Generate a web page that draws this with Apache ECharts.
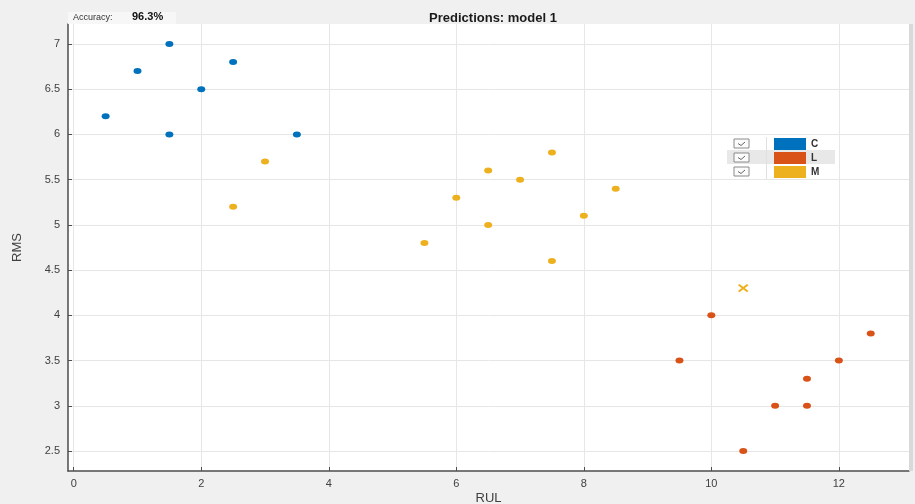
<!DOCTYPE html>
<html>
<head>
    <meta charset="utf-8">
    <title>Predictions: model 1</title>
    <script type="text/javascript" src="https://cdn.jsdelivr.net/npm/echarts@6/dist/echarts.min.js"></script>
    <style type="text/css">
        html, body { margin: 0; padding: 0; background: #f0f0f0; }
        #main { width: 915px; height: 504px; }
    </style>
</head>
<body>
    <div id="main"></div>
    <script type="text/javascript">
        // data: [RUL, RMS]
        var seriesNames = ['C', 'L', 'M'];
        var seriesColors = ['#0072BD', '#D95319', '#EDB120'];
        var pointsC = [[0.5, 6.2], [1, 6.7], [1.5, 7], [1.5, 6], [2, 6.5], [2.5, 6.8], [3.5, 6]];
        var pointsL = [[9.5, 3.5], [10, 4], [10.5, 2.5], [11, 3], [11.5, 3.3], [11.5, 3], [12, 3.5], [12.5, 3.8]];
        var pointsM = [[2.5, 5.2], [3, 5.7], [5.5, 4.8], [6, 5.3], [6.5, 5.6], [6.5, 5], [7, 5.5],
                       [7.5, 5.8], [7.5, 4.6], [8, 5.1], [8.5, 5.4]];
        // misclassified point, drawn as a cross
        var wrongM = [[10.5, 4.3]];
        var xTicks = [0, 2, 4, 6, 8, 10, 12];
        var yTicks = [2.5, 3, 3.5, 4, 4.5, 5, 5.5, 6, 6.5, 7];
        var accuracy = '96.3%';

        var chart = echarts.init(document.getElementById('main'), null, { renderer: 'canvas' });
        var font = 'Liberation Sans, Arial, sans-serif';
        var crossPath = 'path://M0,0 L10,10 M10,0 L0,10';

        function axisCommon(ticks) {
            return {
                axisLine: { show: true, onZero: false, lineStyle: { color: '#4d4d4d', width: 1.5 } },
                axisTick: { show: true, inside: true, length: 4, customValues: ticks, lineStyle: { color: '#4d4d4d' } },
                axisLabel: { customValues: ticks, color: '#404040', fontSize: 11, fontFamily: font, margin: 8 },
                splitLine: { show: true, lineStyle: { color: '#e6e6e6', width: 1 } }
            };
        }

        var xAxis = axisCommon(xTicks);
        xAxis.type = 'value';
        xAxis.min = -0.09;
        xAxis.max = 13.1;
        xAxis.name = 'RUL';
        xAxis.nameLocation = 'middle';
        xAxis.nameGap = 21;
        xAxis.nameMoveOverlap = false;
        xAxis.axisLabel.margin = 7;
        xAxis.nameTextStyle = { color: '#404040', fontSize: 13, fontFamily: font };

        var yAxis = axisCommon(yTicks);
        yAxis.type = 'value';
        yAxis.min = 2.28;
        yAxis.max = 7.22;
        yAxis.name = 'RMS';
        yAxis.nameLocation = 'middle';
        yAxis.nameGap = 44;
        yAxis.nameMoveOverlap = false;
        yAxis.nameTextStyle = { color: '#404040', fontSize: 13, fontFamily: font };
        yAxis.axisLabel.formatter = function (v) { return String(v); };

        // checkbox graphics for the legend rows
        var checkboxes = [];
        [0, 1, 2].forEach(function (i) {
            var y0 = 139 + i * 14;
            checkboxes.push({ type: 'rect', z: 8, shape: { x: 734, y: y0, width: 15, height: 9 },
                style: { fill: '#fbfbfb', stroke: '#8a8a8a', lineWidth: 1 } });
            checkboxes.push({ type: 'polyline', z: 9, shape: { points: [[738, y0 + 4.5], [741, y0 + 6.5], [745, y0 + 3]] },
                style: { stroke: '#666', fill: null, lineWidth: 1 } });
        });

        var option = {
            backgroundColor: '#f0f0f0',
            animation: false,
            title: {
                text: 'Predictions: model 1',
                left: 488,
                textAlign: 'center',
                top: 7,
                textStyle: { color: '#1a1a1a', fontSize: 13, fontWeight: 'bold', fontFamily: font }
            },
            grid: {
                left: 68, right: 6, top: 24, bottom: 33,
                outerBoundsMode: 'none',
                containLabel: false,
                show: true, backgroundColor: '#ffffff', borderWidth: 0
            },
            xAxis: xAxis,
            yAxis: yAxis,
            legend: {
                orient: 'vertical',
                left: 774, top: 138,
                padding: 0,
                z: 20,
                itemWidth: 32, itemHeight: 12, itemGap: 2,
                icon: 'rect',
                data: seriesNames,
                itemStyle: { opacity: 1 },
                textStyle: { color: '#333', fontSize: 10, fontWeight: 'bold', fontFamily: font },
                selectedMode: false
            },
            graphic: [
                // accuracy box
                { type: 'rect', z: 10, shape: { x: 68, y: 12, width: 108, height: 12 }, style: { fill: '#f7f7f7' } },
                { type: 'text', z: 11, x: 73, y: 13, style: { text: 'Accuracy:', fill: '#333', font: '9px ' + font } },
                { type: 'text', z: 11, x: 132, y: 11, style: { text: accuracy, fill: '#111', font: 'bold 11px ' + font } },
                // legend background and highlighted row
                { type: 'rect', z: 5, shape: { x: 727, y: 137, width: 108, height: 42 }, style: { fill: '#ffffff' } },
                { type: 'rect', z: 6, shape: { x: 727, y: 150, width: 108, height: 14 }, style: { fill: '#e8e8e8' } },
                { type: 'line', z: 7, shape: { x1: 766.5, y1: 137, x2: 766.5, y2: 179 }, style: { stroke: '#e0e0e0' } },
                // right edge strip
                { type: 'rect', z: 3, shape: { x: 909, y: 24, width: 4, height: 447 }, style: { fill: '#d9d9d9' } }
            ].concat(checkboxes),
            series: [
                {
                    name: 'C', type: 'scatter', data: pointsC,
                    symbol: 'circle', symbolSize: [8, 6],
                    itemStyle: { color: seriesColors[0], opacity: 1 }
                },
                {
                    name: 'L', type: 'scatter', data: pointsL,
                    symbol: 'circle', symbolSize: [8, 6],
                    itemStyle: { color: seriesColors[1], opacity: 1 }
                },
                {
                    name: 'M', type: 'scatter', data: pointsM,
                    symbol: 'circle', symbolSize: [8, 6],
                    itemStyle: { color: seriesColors[2], opacity: 1 }
                },
                {
                    name: 'M wrong', type: 'scatter', data: wrongM,
                    symbol: crossPath, symbolSize: [9, 7],
                    itemStyle: { color: 'none', borderColor: seriesColors[2], borderWidth: 2, opacity: 1 }
                }
            ]
        };

        chart.setOption(option);
    </script>
</body>
</html>
